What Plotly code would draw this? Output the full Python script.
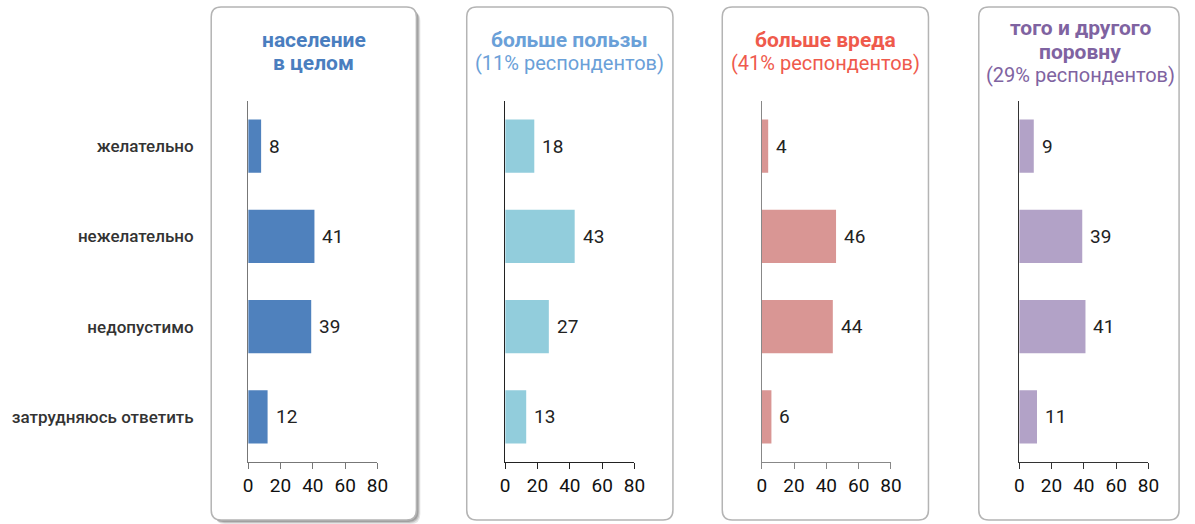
import plotly.graph_objects as go

# Survey answers, share of respondents (%)
categories = ["желательно", "нежелательно", "недопустимо", "затрудняюсь ответить"]

panel_titles = [
    ["население", "в целом"],
    ["больше пользы", "(11% респондентов)"],
    ["больше вреда", "(41% респондентов)"],
    ["того и другого", "поровну", "(29% респондентов)"],
]
vals_total = [8, 41, 39, 12]
vals_benefit = [18, 43, 27, 13]
vals_harm = [4, 46, 44, 6]
vals_equal = [9, 39, 41, 11]
series = [vals_total, vals_benefit, vals_harm, vals_equal]

axis_ticks = [0, 20, 40, 60, 80]

bar_colors = ["#4f81bd", "#92cddc", "#d99694", "#b2a2c7"]
title_colors = ["#4a7ebf", "#6aa0d8", "#ef5a4c", "#7f63a1"]
axis_colors = ["#777777", "#222222", "#888888", "#333333"]

W, H = 1195, 524


def px(x):
    return x / W


def py(y):
    return 1 - y / H


# pixel layout of each panel
x_domains_px = [(246.5, 377.5), (507, 638), (767, 898), (1028, 1159)]
y_domain_px = (462, 101)
boxes_px = [(209, 7, 417, 520), (468, 7, 677, 520), (727, 7, 936, 520), (987, 7, 1190, 520)]
title_cx = [313, 572.5, 831.5, 1090]


def rrect(x0, y0, x1, y1, r):
    pts = [
        ("M", [(x0 + r, y0)]),
        ("L", [(x1 - r, y0)]),
        ("Q", [(x1, y0), (x1, y0 + r)]),
        ("L", [(x1, y1 - r)]),
        ("Q", [(x1, y1), (x1 - r, y1)]),
        ("L", [(x0 + r, y1)]),
        ("Q", [(x0, y1), (x0, y1 - r)]),
        ("L", [(x0, y0 + r)]),
        ("Q", [(x0, y0), (x0 + r, y0)]),
    ]
    s = ""
    for cmd, ps in pts:
        s += cmd + " " + " ".join(f"{px(a):.5f},{py(b):.5f}" for a, b in ps) + " "
    return s + "Z"


fig = go.Figure()
shapes = []
annotations = []
font_family = "Roboto, 'Noto Sans', sans-serif"

for i, vals in enumerate(series):
    n = "" if i == 0 else str(i + 1)
    fig.add_trace(go.Bar(
        x=vals, y=categories, orientation="h",
        marker=dict(color=bar_colors[i], line=dict(width=0)),
        width=0.59,
        xaxis="x" + n, yaxis="y" + n,
        showlegend=False, hoverinfo="skip",
    ))
    # value labels placed just right of each bar end
    for v, c in zip(vals, categories):
        annotations.append(dict(
            x=v, y=c, xref="x" + n, yref="y" + n,
            xanchor="left", yanchor="middle", xshift=6, showarrow=False,
            text=str(v),
            font=dict(size=19, color="#222222", family=font_family),
        ))
    d = x_domains_px[i]
    fig.layout["xaxis" + n] = dict(
        domain=[px(d[0]), px(d[1])], range=[0, 80], anchor="y" + n,
        tickvals=axis_ticks, ticks="outside", ticklen=6, tickcolor=axis_colors[i],
        showline=True, linecolor=axis_colors[i], linewidth=1.2,
        showgrid=False, zeroline=False, fixedrange=True,
        tickfont=dict(size=19, color="#111111", family=font_family),
    )
    fig.layout["yaxis" + n] = dict(
        domain=[py(y_domain_px[0]), py(y_domain_px[1])], anchor="x" + n,
        type="category", categoryorder="array", categoryarray=categories[::-1],
        range=[-0.5, 3.5],
        showline=True, linecolor=axis_colors[i], linewidth=1.2,
        ticks="", showgrid=False, zeroline=False, fixedrange=True,
        showticklabels=(i == 0), ticklabelstandoff=50,
        tickfont=dict(size=17, color="#333333", family=font_family, weight=500),
    )

    bx = boxes_px[i]
    if i == 0:
        # soft drop shadow under the first panel
        for off, op in [(4, 0.10), (3, 0.14), (2, 0.18)]:
            shapes.append(dict(
                type="path", xref="paper", yref="paper", layer="below",
                path=rrect(bx[0] + off, bx[1] + off, bx[2] + off, bx[3] + off, 10),
                fillcolor=f"rgba(0,0,0,{op})", line=dict(width=0),
            ))
    shapes.append(dict(
        type="path", xref="paper", yref="paper", layer="below",
        path=rrect(*bx, 10),
        fillcolor="white", line=dict(color="#b4b4b4", width=1.5),
    ))

    lines = panel_titles[i]
    ys = [40, 63] if len(lines) == 2 else [28, 52, 75]
    for txt, yy in zip(lines, ys):
        is_note = txt.startswith("(")
        annotations.append(dict(
            x=px(title_cx[i]), y=py(yy), xref="paper", yref="paper",
            xanchor="center", yanchor="middle", showarrow=False,
            text=txt,
            font=dict(size=21 if not is_note else 20, color=title_colors[i],
                      family=font_family, weight=400 if is_note else 700),
        ))

fig.update_layout(
    width=W, height=H, autosize=False,
    margin=dict(l=0, r=0, t=0, b=0),
    paper_bgcolor="white", plot_bgcolor="rgba(0,0,0,0)",
    shapes=shapes, annotations=annotations,
)

fig.write_html("out.html", config={"displayModeBar": False, "responsive": False})
